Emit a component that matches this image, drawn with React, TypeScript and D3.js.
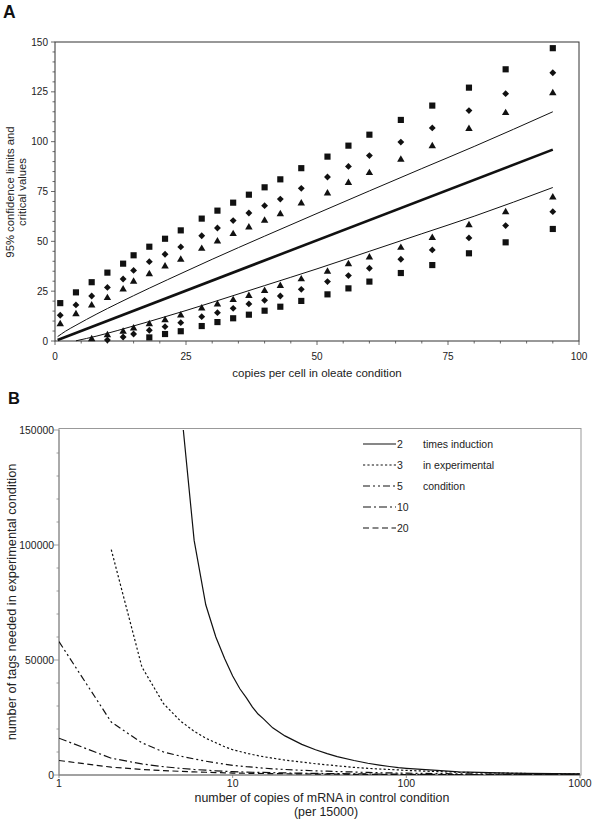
import React from "react";
import * as d3 from "d3";

// ---------- Panel A data ----------
const copiesA = [1, 4, 7, 10, 13, 15, 18, 21, 24, 28, 31, 34, 37, 40, 43, 47, 52, 56, 60, 66, 72, 79, 86, 95];
const upperSquare = [19, 24.4, 29.5, 34.3, 38.8, 43, 47.3, 51.3, 55.5, 61.4, 65.4, 69.4, 73.4, 77.1, 81.1, 86.7, 92.5, 98, 103.5, 110.9, 118.1, 127.1, 136.3, 146.9];
const upperDiamond = [12.9, 18.1, 22.6, 26.9, 31.1, 35.4, 39.8, 43.5, 47.2, 52.8, 56.7, 60.4, 64.2, 67.9, 71.2, 76.6, 82.3, 87.6, 93, 99.8, 106.9, 115.6, 124.1, 134.6];
const upperTriangle = [8.5, 13.5, 17.9, 21.6, 25.9, 29.8, 33.6, 37.5, 40.8, 46.3, 50, 53.7, 57, 60.4, 63.7, 69.1, 74.1, 79.4, 84.3, 91, 97.8, 106.4, 114.4, 124.4];
const lowerTriangle = [null, null, 1.0, 3.0, 4.7, 6.4, 8.5, 10.5, 12.9, 16.4, 18.4, 20.6, 22.7, 25.2, 27.7, 31, 34.8, 38.6, 42, 46.8, 51.8, 58.2, 64.7, 72.1];
const lowerDiamond = [null, null, null, 0.5, 2.0, 3.5, 5.4, 7.2, 9.2, 12.2, 14.2, 16.4, 18.6, 20.4, 22.6, 25.9, 29.8, 32.8, 36.5, 41, 45.7, 51.7, 57.9, 64.9];
const lowerSquare = [null, null, null, null, null, null, 1.8, 3.5, 4.9, 7.5, 9.5, 11.4, 13.2, 15.2, 17.2, 20.1, 23.4, 26.4, 29.8, 34.1, 38.1, 44, 49.5, 56.2];

const centerX = [0.5, 95];
const centerY = [0.5, 96];
const upperLineX = [0.5, 2, 4, 8, 12, 18, 25, 30, 40, 50, 60, 70, 80, 95];
const upperLineY = [2.2, 4.9, 7.9, 13.6, 18.9, 26.5, 35, 41, 52.6, 64, 75.3, 86.5, 97.6, 115];
const lowerLineX = [4, 8, 12, 18, 25, 30, 40, 50, 60, 70, 80, 95];
const lowerLineY = [0.1, 2.5, 5.3, 9.8, 15.3, 19.4, 27.8, 36.2, 45, 53.8, 62.6, 77];

const yTicksA = [0, 25, 50, 75, 100, 125, 150];
const xTicksA = [0, 25, 50, 75, 100];

// ---------- Panel B data ----------
const copiesB = [1, 2, 3, 4, 5, 6, 7, 8, 9, 10, 11, 12, 13, 14, 15, 17, 20, 25, 30, 35, 40, 50, 60, 70, 80, 90, 100, 150, 200, 300, 500, 1000];
const induction2 = [null, null, null, null, 163000, 102000, 74000, 60000, 50500, 43000, 37500, 33500, 29500, 26500, 24500, 20500, 17000, 13300, 11000, 9300, 8000, 6300, 5100, 4300, 3700, 3200, 2900, 2000, 1400, 1000, 700, 500];
const induction3 = [null, 98000, 47000, 31000, 23500, 19000, 16000, 14000, 12300, 11000, 10200, 9500, 8900, 8400, 8000, 7300, 6500, 5600, 4900, 4400, 4000, 3300, 2900, 2600, 2400, 2200, 2000, 1500, 1200, 900, 650, 450];
const induction5 = [58000, 23000, 14000, 10000, 8200, 7000, 6000, 5300, 4700, 4200, 3900, 3600, 3400, 3200, 3000, 2700, 2400, 2050, 1800, 1650, 1500, 1300, 1100, 1000, 900, 850, 800, 600, 500, 400, 320, 250];
const induction10 = [16000, 7300, 4800, 3600, 2900, 2400, 2100, 1800, 1600, 1450, 1350, 1270, 1200, 1150, 1100, 1000, 900, 780, 700, 630, 580, 500, 450, 400, 370, 340, 320, 250, 200, 160, 130, 100];
const induction20 = [6300, 3400, 2400, 1900, 1600, 1350, 1200, 1050, 950, 850, 800, 760, 720, 680, 650, 600, 550, 480, 420, 380, 350, 300, 270, 240, 220, 200, 190, 150, 120, 100, 80, 60];

const legendLabels = ["2", "3", "5", "10", "20"];
const legendNotes = ["times induction", "in experimental", "condition"];
const yTicksB = [0, 50000, 100000, 150000];
const xTicksB = [1, 10, 100, 1000];

const FONT = "'Liberation Sans', Arial, Helvetica, sans-serif";

export default function App() {
  // Panel A scales
  const xA = d3.scaleLinear().domain([0, 100]).range([55, 579]);
  const yA = d3.scaleLinear().domain([0, 150]).range([341, 42]);
  // Panel B scales
  const xB = d3.scaleLog().domain([1, 1000]).range([59, 580]);
  const yB = d3.scaleLinear().domain([0, 150000]).range([775, 430]);

  type P = { x: number; y: number | null };
  const lineA = d3
    .line<P>()
    .defined((d) => d.y != null)
    .x((d) => xA(d.x))
    .y((d) => yA(d.y as number))
    .curve(d3.curveMonotoneX);
  const lineB = d3
    .line<P>()
    .defined((d) => d.y != null)
    .x((d) => xB(d.x))
    .y((d) => yB(d.y as number));

  const zip = (xs: number[], ys: (number | null)[]): P[] => xs.map((x, i) => ({ x, y: ys[i] }));

  const sq = d3.symbol().type(d3.symbolSquare).size(38)() as string;
  const di = d3.symbol().type(d3.symbolDiamond2).size(30)() as string;
  const tr = d3.symbol().type(d3.symbolTriangle).size(24)() as string;

  const markerSeries: { vals: (number | null)[]; path: string }[] = [
    { vals: upperSquare, path: sq },
    { vals: upperDiamond, path: di },
    { vals: upperTriangle, path: tr },
    { vals: lowerTriangle, path: tr },
    { vals: lowerDiamond, path: di },
    { vals: lowerSquare, path: sq },
  ];

  const minorA = d3.range(0, 101, 5);
  const minorAY = d3.range(0, 151, 5);
  const minorBY = d3.range(0, 150001, 10000);

  const seriesB = [
    { vals: induction2, dash: "none" },
    { vals: induction3, dash: "2.2,2.2" },
    { vals: induction5, dash: "7,3,2,3,2,3" },
    { vals: induction10, dash: "8,3,2,3" },
    { vals: induction20, dash: "6,3.5" },
  ];

  const legX0 = 363;
  const legX1 = 396;
  const legY = d3.scalePoint<string>().domain(legendLabels).range([444, 528]);

  return (
    <svg
      width={597}
      height={820}
      style={{ position: "absolute", left: 0, top: 0, background: "#fff" }}
      fontFamily={FONT}
    >
      <rect x={0} y={0} width={597} height={820} fill="#fff" />
      {/* ================= Panel A ================= */}
      <text x={3} y={17.5} fontSize={17.5} fontWeight="bold" fill="#111">A</text>
      <rect x={xA(0)} y={yA(150)} width={xA(100) - xA(0)} height={yA(0) - yA(150)} fill="none" stroke="#333" strokeWidth={1} />
      {minorA.map((t) => (
        <line key={"mxa" + t} x1={xA(t)} x2={xA(t)} y1={yA(0)} y2={yA(0) + (t % 25 === 0 ? 4 : 2.5)} stroke="#444" strokeWidth={0.8} />
      ))}
      {minorAY.map((t) => (
        <line key={"mya" + t} x1={xA(0)} x2={xA(0) - (t % 25 === 0 ? 4 : 2.5)} y1={yA(t)} y2={yA(t)} stroke="#444" strokeWidth={0.8} />
      ))}
      {yTicksA.map((t) => (
        <text key={"yta" + t} x={48} y={yA(t)} dy="0.35em" fontSize={10} textAnchor="end" fill="#222">{t}</text>
      ))}
      {xTicksA.map((t) => (
        <text key={"xta" + t} x={xA(t)} y={356} dy="0.35em" fontSize={10} textAnchor="middle" fill="#222">{t}</text>
      ))}
      <text x={317} y={373} dy="0.35em" fontSize={11.5} textAnchor="middle" fill="#222">copies per cell in oleate condition</text>
      <g transform={`translate(10,192) rotate(-90)`}>
        <text x={0} y={0} dy="0.35em" fontSize={11.3} textAnchor="middle" fill="#222">95% confidence limits and</text>
      </g>
      <g transform={`translate(22,192) rotate(-90)`}>
        <text x={0} y={0} dy="0.35em" fontSize={11.3} textAnchor="middle" fill="#222">critical values</text>
      </g>
      <path d={lineA(zip(upperLineX, upperLineY)) || ""} fill="none" stroke="#111" strokeWidth={1} />
      <path d={lineA(zip(lowerLineX, lowerLineY)) || ""} fill="none" stroke="#111" strokeWidth={1} />
      <path d={lineA(zip(centerX, centerY)) || ""} fill="none" stroke="#111" strokeWidth={2.6} />
      {markerSeries.map((s, si) =>
        copiesA.map((c, i) =>
          s.vals[i] == null ? null : (
            <path key={`m${si}-${i}`} d={s.path} transform={`translate(${xA(c)},${yA(s.vals[i] as number)})`} fill="#111" />
          )
        )
      )}

      {/* ================= Panel B ================= */}
      <text x={8} y={403.5} fontSize={16.5} fontWeight="bold" fill="#111">B</text>
      <defs>
        <clipPath id="clipB">
          <rect x={xB(1)} y={yB(150000)} width={xB(1000) - xB(1)} height={yB(0) - yB(150000)} />
        </clipPath>
      </defs>
      <rect x={xB(1)} y={yB(150000) - 1.5} width={xB(1000) - xB(1) + 1} height={yB(0) - yB(150000) + 1.5} fill="none" stroke="#999" strokeWidth={1} />
      <line x1={xB(1)} x2={xB(1000)} y1={yB(0)} y2={yB(0)} stroke="#777" strokeWidth={1} />
      <line x1={xB(1)} x2={xB(1)} y1={yB(0)} y2={yB(150000)} stroke="#888" strokeWidth={1} />
      {minorBY.map((t) => (
        <line key={"myb" + t} x1={xB(1)} x2={xB(1) - (t % 50000 === 0 ? 5 : 2.5)} y1={yB(t)} y2={yB(t)} stroke="#888" strokeWidth={0.8} />
      ))}
      {xTicksB.map((t) => (
        <line key={"mxb" + t} x1={xB(t)} x2={xB(t)} y1={yB(0)} y2={yB(0) + 3} stroke="#777" strokeWidth={0.8} />
      ))}
      {yTicksB.map((t) => (
        <text key={"ytb" + t} x={54} y={yB(t)} dy="0.35em" fontSize={10.4} textAnchor="end" fill="#222">{t}</text>
      ))}
      {xTicksB.map((t) => (
        <text key={"xtb" + t} x={xB(t)} y={783.5} dy="0.35em" fontSize={10.5} textAnchor="middle" fill="#222">{t}</text>
      ))}
      <text x={322} y={797.5} dy="0.35em" fontSize={12.4} textAnchor="middle" fill="#222">number of copies of mRNA in control condition</text>
      <text x={326} y={812} dy="0.35em" fontSize={12.4} textAnchor="middle" fill="#222">(per 15000)</text>
      <g transform={`translate(12,602) rotate(-90)`}>
        <text x={0} y={0} dy="0.35em" fontSize={12.8} textAnchor="middle" fill="#222">number of tags needed in experimental condition</text>
      </g>
      <g clipPath="url(#clipB)">
        {seriesB.map((s, i) => (
          <path key={"sb" + i} d={lineB(zip(copiesB, s.vals)) || ""} fill="none" stroke="#111" strokeWidth={1.2} strokeDasharray={s.dash} />
        ))}
      </g>
      {legendLabels.map((l, i) => (
        <g key={"leg" + l}>
          <line x1={legX0} x2={legX1} y1={legY(l) as number} y2={legY(l) as number} stroke="#111" strokeWidth={1.1} strokeDasharray={seriesB[i].dash} />
          <text x={legX1 + 1} y={legY(l) as number} dy="0.35em" fontSize={10.5} fill="#222">{l}</text>
        </g>
      ))}
      {legendNotes.map((n, i) => (
        <text key={"note" + i} x={423} y={legY(legendLabels[i]) as number} dy="0.35em" fontSize={10.5} fill="#222">{n}</text>
      ))}
    </svg>
  );
}
